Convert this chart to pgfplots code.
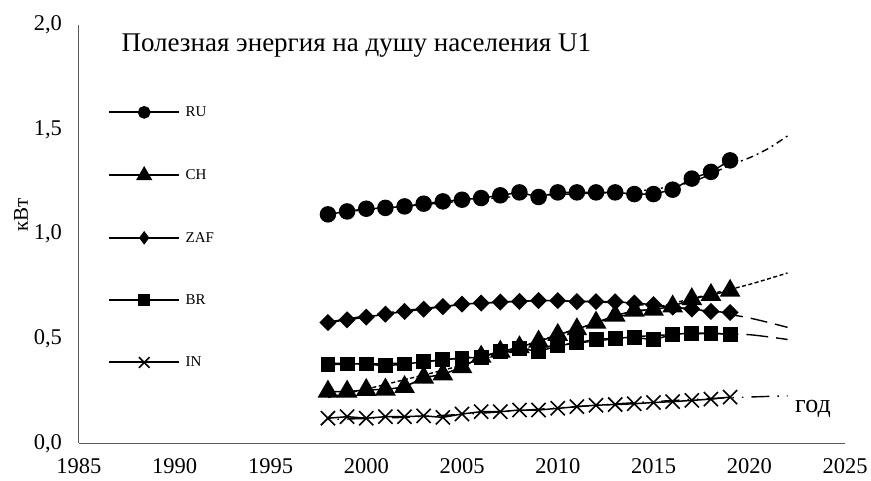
\documentclass[border=0pt]{standalone}
\usepackage{fontspec}
\setmainfont{Liberation Serif}
\usepackage{pgfplots}
\pgfplotsset{compat=1.18}
\begin{document}
\begin{tikzpicture}
\path[use as bounding box] (-79pt,-37.5pt) rectangle (792pt,443.5pt);
\begin{axis}[
  at={(0pt,0pt)}, anchor=south west,
  scale only axis, width=766pt, height=418.5pt,
  xmin=1985, xmax=2025, ymin=0, ymax=2,
  xtick={1985,1990,...,2025}, ytick={0,0.5,1,1.5,2},
  axis lines=left,
  axis line style={-, draw=gray!70!black, line width=1pt},
  major tick length=0pt,
  /pgf/number format/assume math mode=true,
  ticklabel style={font=\fontsize{22.5}{27}\selectfont},
  xticklabel style={yshift=-12pt, /pgf/number format/1000 sep={}},
  yticklabel style={xshift=-13.5pt, /pgf/number format/.cd, fixed, fixed zerofill, precision=1, use comma},
  legend cell align=left,
  legend style={draw=none, fill=none, at={(rel axis cs:0,1)}, anchor=north west,
    xshift=29pt, yshift=-80pt, inner sep=0pt, row sep=48pt, column sep=4pt,
    font=\fontsize{15}{18}\selectfont, nodes={inner sep=1.5pt}},
  legend image code/.code={
    \draw[#1, line width=2pt] (0pt,0pt) -- (70pt,0pt);
    \draw[#1, line width=1.5pt, mark options={scale=0.75}] plot coordinates {(35pt,0pt)};
  },
  clip=false,
]
% trend lines
\addplot[black, line width=1.4pt, smooth, dash pattern=on 7pt off 4pt on 2pt off 4pt, forget plot] coordinates {
(1998,1.10) (2001,1.125) (2004,1.15) (2007,1.175) (2010,1.19) (2013,1.20) (2015,1.215) (2017,1.25) (2019,1.33) (2020,1.365) (2021,1.41) (2022,1.47)};
\addplot[black, line width=1.4pt, smooth, dash pattern=on 4pt off 2.5pt, forget plot] coordinates {
(1998,0.22) (2000,0.26) (2002,0.305) (2004,0.35) (2006,0.40) (2008,0.46) (2010,0.52) (2012,0.575) (2014,0.625) (2016,0.67) (2018,0.715) (2020,0.76) (2022,0.815)};
\addplot[black, line width=1.4pt, smooth, dash pattern=on 17pt off 8pt, forget plot] coordinates {
(1998,0.58) (2000,0.61) (2002,0.635) (2004,0.655) (2006,0.67) (2008,0.68) (2010,0.683) (2012,0.677) (2014,0.665) (2016,0.65) (2018,0.63) (2020,0.60) (2022,0.555)};
\addplot[black, line width=1.4pt, smooth, dash pattern=on 22pt off 8pt, forget plot] coordinates {
(1998,0.385) (2000,0.38) (2002,0.385) (2004,0.40) (2006,0.42) (2008,0.445) (2010,0.47) (2012,0.49) (2014,0.51) (2016,0.52) (2018,0.525) (2020,0.52) (2022,0.497)};
\addplot[black, line width=1.4pt, smooth, dash pattern=on 1.5pt off 8pt on 1.5pt off 8pt on 18pt off 8pt, forget plot] coordinates {
(1998,0.115) (2002,0.125) (2006,0.145) (2010,0.17) (2014,0.195) (2018,0.215) (2020,0.222) (2022,0.228)};
% data
\addplot[black, line width=1.5pt, mark=*, mark size=7.5pt, mark options={solid, fill=black}] coordinates {
(1998,1.095) (1999,1.109) (2000,1.122) (2001,1.126) (2002,1.133) (2003,1.146) (2004,1.157) (2005,1.165) (2006,1.173) (2007,1.186) (2008,1.200) (2009,1.178) (2010,1.200) (2011,1.200) (2012,1.200) (2013,1.200) (2014,1.192) (2015,1.192) (2016,1.213) (2017,1.266) (2018,1.298) (2019,1.353)};
\addlegendentry{RU}
\addplot[black, line width=1.5pt, mark=triangle*, mark size=10.5pt, mark options={solid, fill=black}] coordinates {
(1998,0.248) (1999,0.248) (2000,0.256) (2001,0.258) (2002,0.27) (2003,0.315) (2004,0.33) (2005,0.365) (2006,0.415) (2007,0.439) (2008,0.46) (2009,0.487) (2010,0.519) (2011,0.546) (2012,0.578) (2013,0.611) (2014,0.635) (2015,0.64) (2016,0.655) (2017,0.69) (2018,0.71) (2019,0.73)};
\addlegendentry{CH}
\addplot[black, line width=1.5pt, mark=diamond*, mark size=7.5pt, mark options={solid, fill=black, xscale=1.33}] coordinates {
(1998,0.578) (1999,0.591) (2000,0.604) (2001,0.618) (2002,0.631) (2003,0.642) (2004,0.654) (2005,0.666) (2006,0.671) (2007,0.676) (2008,0.679) (2009,0.683) (2010,0.683) (2011,0.678) (2012,0.678) (2013,0.677) (2014,0.671) (2015,0.663) (2016,0.652) (2017,0.643) (2018,0.631) (2019,0.626)};
\addlegendentry{ZAF}
\addplot[black, line width=1.5pt, mark=square*, mark size=6.7pt, mark options={solid, fill=black}] coordinates {
(1998,0.376) (1999,0.38) (2000,0.38) (2001,0.371) (2002,0.38) (2003,0.39) (2004,0.40) (2005,0.408) (2006,0.412) (2007,0.44) (2008,0.455) (2009,0.44) (2010,0.466) (2011,0.482) (2012,0.497) (2013,0.503) (2014,0.508) (2015,0.495) (2016,0.522) (2017,0.527) (2018,0.527) (2019,0.522)};
\addlegendentry{BR}
\addplot[black, line width=1.5pt, mark=x, mark size=10pt, mark options={solid, line width=1.6pt}] coordinates {
(1998,0.121) (1999,0.128) (2000,0.121) (2001,0.128) (2002,0.128) (2003,0.132) (2004,0.125) (2005,0.141) (2006,0.152) (2007,0.152) (2008,0.16) (2009,0.16) (2010,0.168) (2011,0.176) (2012,0.183) (2013,0.186) (2014,0.19) (2015,0.196) (2016,0.20) (2017,0.206) (2018,0.212) (2019,0.222)};
\addlegendentry{IN}
\node[anchor=base west, font=\fontsize{27}{32}\selectfont] at ([xshift=39pt,yshift=391.5pt]rel axis cs:0,0) {Полезная энергия на душу населения U1};
\node[anchor=base west, font=\fontsize{26}{30}\selectfont] at ([xshift=712.7pt,yshift=30.5pt]rel axis cs:0,0) {год};
\node[rotate=90, font=\fontsize{21}{25}\selectfont] at ([xshift=-58pt]rel axis cs:0,0.546) {кВт};
\end{axis}
\end{tikzpicture}
\end{document}
